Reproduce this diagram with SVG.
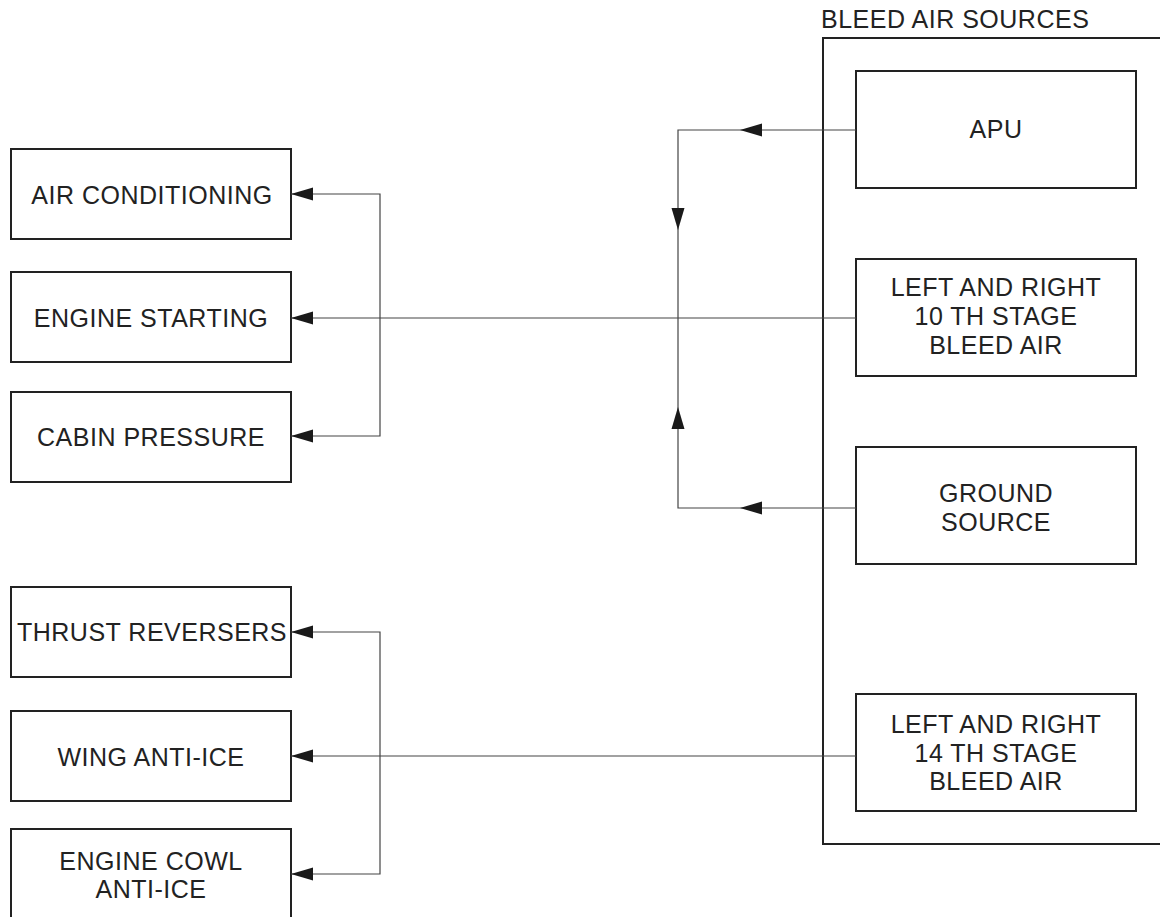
<svg xmlns="http://www.w3.org/2000/svg" xmlns:xlink="http://www.w3.org/1999/xlink" width="1160" height="917" viewBox="0 0 1160 917">
<style>
.box{fill:#fff;stroke:#222;stroke-width:2}
.lbl{font-family:"Liberation Sans",Arial,sans-serif;font-size:25px;letter-spacing:0.5px;fill:#222;text-anchor:middle}
.title{font-family:"Liberation Sans",Arial,sans-serif;font-size:25px;letter-spacing:0.5px;fill:#222}
.wire{fill:none;stroke:#444;stroke-width:1.2}
.ah{fill:#1a1a1a}
</style>
<defs>
<path id="ah" d="M0,0 L22,-6.5 L22,6.5 Z"/>
</defs>
<rect width="1160" height="917" fill="#fff"/>

<g id="bleed-air-sources">
<rect class="box" x="823" y="38" width="400" height="806"/>
<text class="title" x="821" y="28">BLEED AIR SOURCES</text>
</g>

<g id="apu">
<rect class="box" x="856" y="71" width="280" height="117"/>
<text class="lbl" x="996" y="138">APU</text>
</g>
<g id="stage10">
<rect class="box" x="856" y="259" width="280" height="117"/>
<text class="lbl" x="996" y="296">LEFT AND RIGHT</text>
<text class="lbl" x="996" y="325">10 TH STAGE</text>
<text class="lbl" x="996" y="354">BLEED AIR</text>
</g>
<g id="ground-source">
<rect class="box" x="856" y="447" width="280" height="117"/>
<text class="lbl" x="996" y="502">GROUND</text>
<text class="lbl" x="996" y="531">SOURCE</text>
</g>
<g id="stage14">
<rect class="box" x="856" y="694" width="280" height="117"/>
<text class="lbl" x="996" y="733">LEFT AND RIGHT</text>
<text class="lbl" x="996" y="762">14 TH STAGE</text>
<text class="lbl" x="996" y="790">BLEED AIR</text>
</g>

<g id="air-conditioning">
<rect class="box" x="11" y="149" width="280" height="90"/>
<text class="lbl" x="152" y="204">AIR CONDITIONING</text>
</g>
<g id="engine-starting">
<rect class="box" x="11" y="272" width="280" height="90"/>
<text class="lbl" x="151" y="327">ENGINE STARTING</text>
</g>
<g id="cabin-pressure">
<rect class="box" x="11" y="392" width="280" height="90"/>
<text class="lbl" x="151" y="446">CABIN PRESSURE</text>
</g>
<g id="thrust-reversers">
<rect class="box" x="11" y="587" width="280" height="90"/>
<text class="lbl" x="152" y="641">THRUST REVERSERS</text>
</g>
<g id="wing-anti-ice">
<rect class="box" x="11" y="711" width="280" height="90"/>
<text class="lbl" x="151" y="766">WING ANTI-ICE</text>
</g>
<g id="engine-cowl-anti-ice">
<rect class="box" x="11" y="829" width="280" height="110"/>
<text class="lbl" x="151" y="870">ENGINE COWL</text>
<text class="lbl" x="151" y="898">ANTI-ICE</text>
</g>

<g id="connectors">
<path class="wire" d="M856,130 H678 V508 H856"/>
<path class="wire" d="M856,318 H291"/>
<path class="wire" d="M291,194 H380 V436 H291"/>
<path class="wire" d="M856,756 H291"/>
<path class="wire" d="M291,632 H380 V874 H291"/>
<use class="ah" xlink:href="#ah" transform="translate(740,130)"/>
<use class="ah" xlink:href="#ah" transform="translate(740,508)"/>
<use class="ah" xlink:href="#ah" transform="translate(678,230) rotate(-90)"/>
<use class="ah" xlink:href="#ah" transform="translate(678,407) rotate(90)"/>
<use class="ah" xlink:href="#ah" transform="translate(291,194)"/>
<use class="ah" xlink:href="#ah" transform="translate(291,318)"/>
<use class="ah" xlink:href="#ah" transform="translate(291,436)"/>
<use class="ah" xlink:href="#ah" transform="translate(291,632)"/>
<use class="ah" xlink:href="#ah" transform="translate(291,756)"/>
<use class="ah" xlink:href="#ah" transform="translate(291,874)"/>
</g>
</svg>
